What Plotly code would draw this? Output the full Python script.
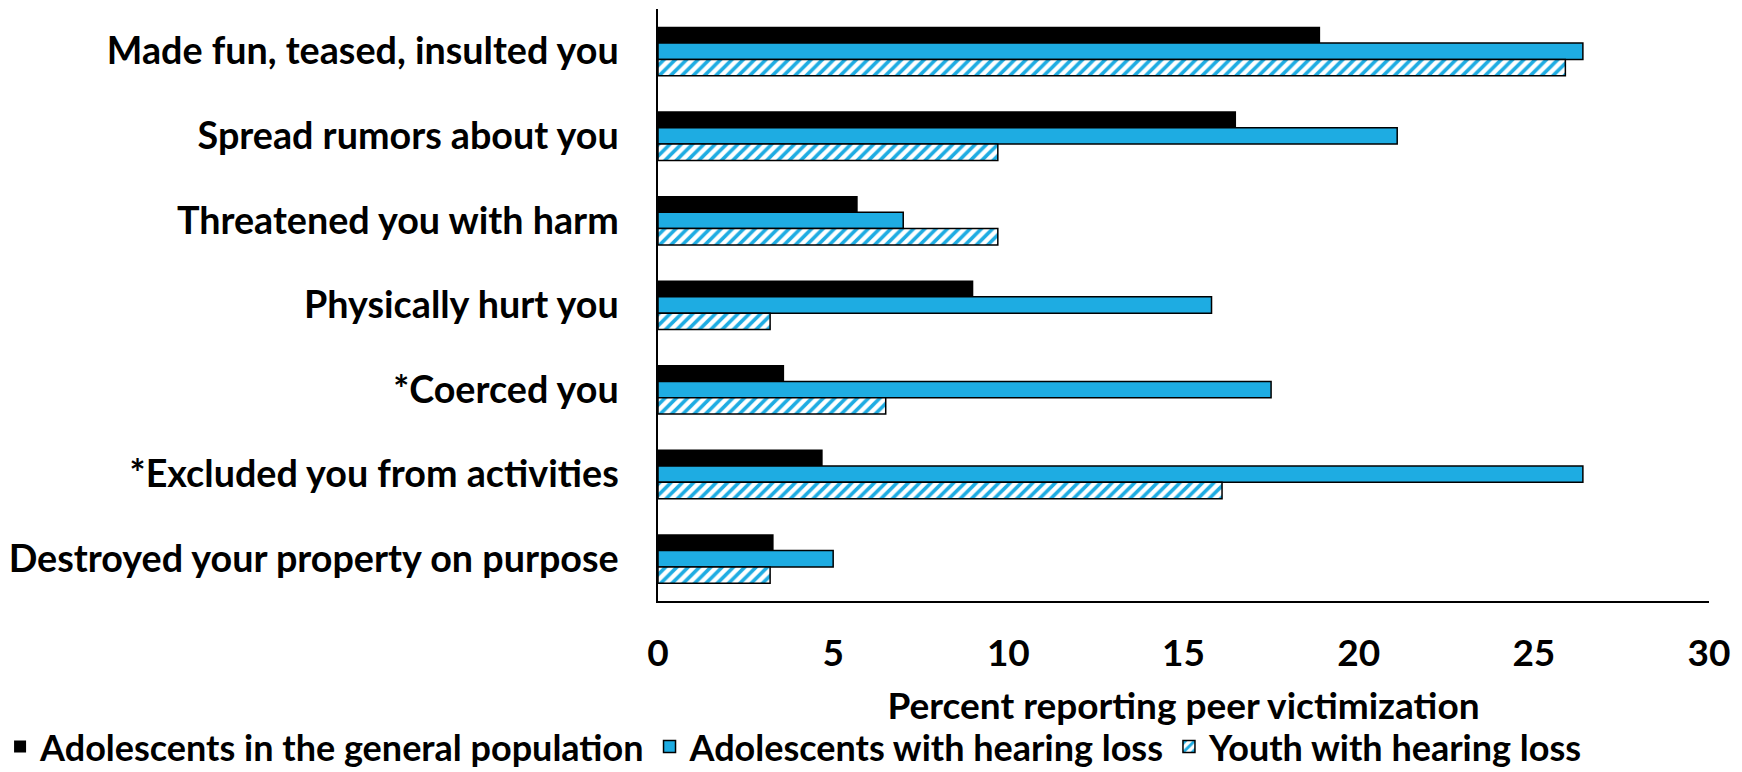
import plotly.graph_objects as go

categories = [
    "Made fun, teased, insulted you",
    "Spread rumors about you",
    "Threatened you with harm",
    "Physically hurt you",
    "*Coerced you",
    "*Excluded you from activities",
    "Destroyed your property on purpose",
]
general_pop = [18.9, 16.5, 5.7, 9.0, 3.6, 4.7, 3.3]
adolescents_hl = [26.4, 21.1, 7.0, 15.8, 17.5, 26.4, 5.0]
youth_hl = [25.9, 9.7, 9.7, 3.2, 6.5, 16.1, 3.2]

series_names = [
    "Adolescents in the general population",
    "Adolescents with hearing loss",
    "Youth with hearing loss",
]

FONT = "Lato"
FS = 37
BLUE = "#1EACE2"

fig = go.Figure()
fig.add_trace(go.Bar(
    y=categories, x=general_pop, orientation="h", name=series_names[0],
    marker=dict(color="black", line=dict(color="black", width=0)),
))
fig.add_trace(go.Bar(
    y=categories, x=adolescents_hl, orientation="h", name=series_names[1],
    marker=dict(color=BLUE, line=dict(color="black", width=1.5)),
))
fig.add_trace(go.Bar(
    y=categories, x=youth_hl, orientation="h", name=series_names[2],
    marker=dict(color="white", line=dict(color="black", width=1.5),
                pattern=dict(shape="/", fgcolor=BLUE, bgcolor="white",
                             size=8, solidity=0.45, fillmode="replace")),
))

fig.update_layout(
    width=1742, height=772,
    margin=dict(l=658, r=33, t=9, b=171, autoexpand=False),
    paper_bgcolor="white", plot_bgcolor="white",
    barmode="group", bargap=0.42, bargroupgap=0,
    font=dict(family=FONT, size=FS, color="black", weight="bold"),
    showlegend=True,
    legend=dict(
        orientation="h", xref="paper", yref="paper",
        x=-0.626, xanchor="left", y=-0.246, yanchor="middle",
        font=dict(family=FONT, size=36, color="black", weight="bold"),
        traceorder="normal", itemwidth=30, tracegroupgap=0,
        bgcolor="rgba(0,0,0,0)",
    ),
    xaxis=dict(
        range=[0, 30], tickvals=[0, 5, 10, 15, 20, 25, 30],
        showgrid=False, zeroline=False,
        showline=True, linecolor="black", linewidth=1.5,
        ticks="", ticklabelstandoff=19,
        tickfont=dict(family=FONT, size=FS, color="black", weight="bold"),
        title=dict(text="Percent reporting peer victimization",
                   font=dict(family=FONT, size=FS, color="black", weight="bold"),
                   standoff=20),
    ),
    yaxis=dict(
        autorange="reversed", showgrid=False, zeroline=False,
        showline=True, linecolor="black", linewidth=1.5,
        ticks="", ticklabelstandoff=30,
        tickfont=dict(family=FONT, size=37.7, color="black", weight="bold"),
    ),
)

fig.write_html("out.html")
